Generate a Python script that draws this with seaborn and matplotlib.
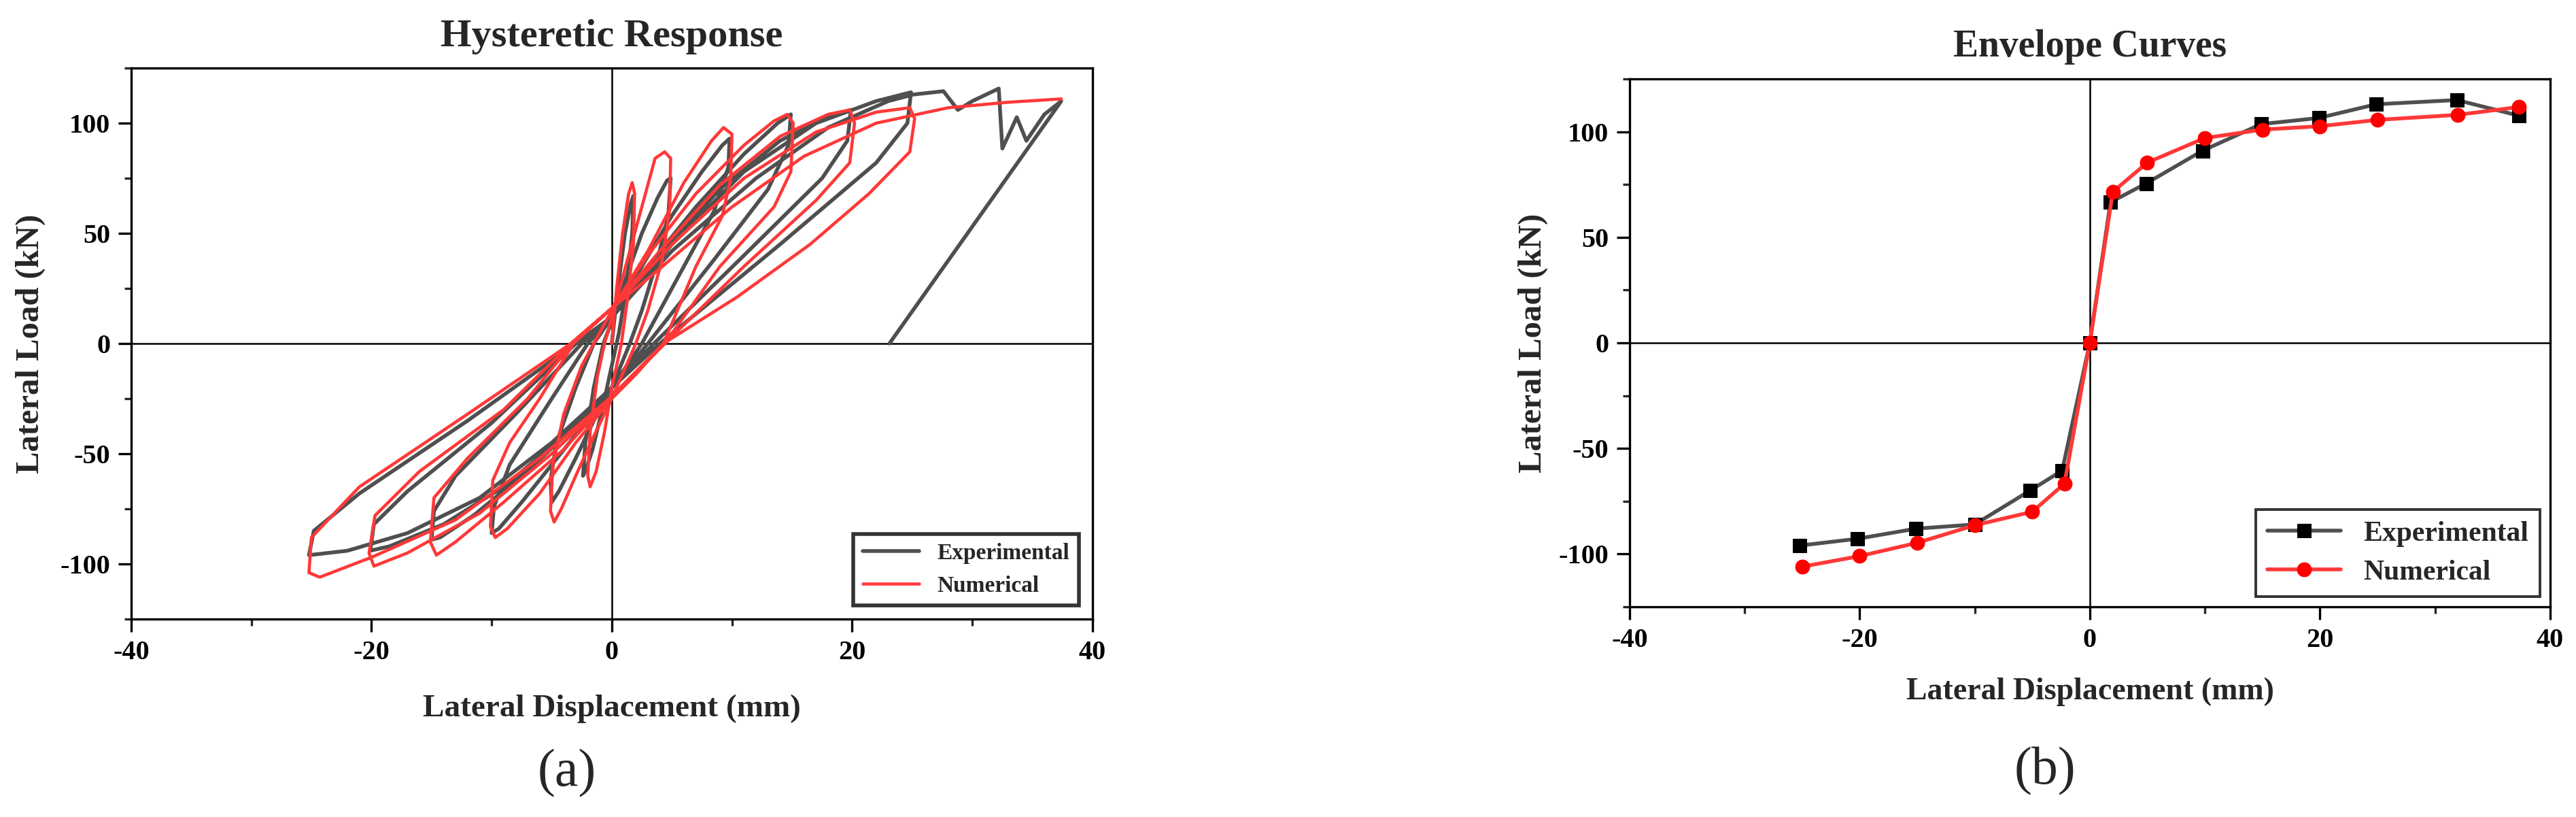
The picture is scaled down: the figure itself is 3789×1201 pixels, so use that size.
import seaborn as sns
import matplotlib.pyplot as plt
import pandas as pd
from matplotlib.ticker import MultipleLocator

sns.set_style('white')
plt.rcParams['font.family'] = ['Liberation Serif', 'DejaVu Serif']
plt.rcParams['axes.unicode_minus'] = False

# ---- data: hysteretic response (mm, kN) ----
exp_x = [0, 0.5, 1.1, 1.6, 1.8, 1.7, 1.2, 0.6, 0, -0.8, -1.6, -2.2, -2.4, -2.2, -1.5, -0.7, 0,
         1.2, 2.5, 3.8, 4.6, 4.9, 4.7, 3.8, 2.5, 1.5, 0, -1.5, -3, -4.4, -5, -5.1, -4.6, -3, -1.5, 0,
         2.5, 5, 7.5, 9.2, 9.8, 9.7, 8.5, 5.5, 2.5, 0, -2.5, -5, -7.5, -9.4, -10, -9.8, -8.5, -5, -2, 0,
         3, 7, 11, 13.8, 14.9, 14.7, 13, 8.5, 3, 0, -3.5, -7.5, -11.5, -14.3, -15, -14.8, -13, -8, -2.5, 0,
         4, 9, 14, 18, 19.9, 19.6, 17.5, 11, 3.5, 0, -4, -9, -14, -18.5, -20.1, -19.8, -17, -10, -3, 0,
         5, 11, 17, 22, 24.9, 24.6, 22, 14, 4, 0, -5, -11, -17, -22, -25.2, -24.8, -21, -12, -3, 0,
         5, 12, 18, 23, 25.1, 27.6, 28.8, 30, 32.2, 32.5, 33.7, 34.5, 36, 37.4, 23.1]
exp_y = [0, 25, 50, 64, 67, 50, 25, 5, -10, -30, -48, -58, -60, -45, -20, 0, 10,
         30, 50, 66, 74, 75, 58, 38, 15, 0, -20, -35, -52, -67, -72, -62, -45, -20, 0, 12,
         35, 58, 78, 90, 93, 80, 60, 30, 0, -20, -38, -55, -72, -84, -86, -74, -55, -25, 0, 12,
         35, 62, 86, 100, 104, 90, 70, 38, 0, -20, -40, -60, -78, -88, -89, -76, -60, -32, 0, 12,
         40, 70, 92, 103, 106, 92, 75, 40, 0, -20, -42, -65, -82, -92, -94, -82, -67, -36, 0, 12,
         45, 78, 100, 110, 114, 100, 82, 45, 0, -20, -45, -70, -86, -94, -96, -85, -68, -35, 0, 12,
         42, 75, 98, 110, 113, 114.5, 106, 110, 115.7, 88.5, 102.7, 92, 104, 110, 0]

num_x = [0, 0.4, 0.9, 1.4, 1.7, 1.9, 1.8, 1.3, 0.8, 0, -0.6, -1.3, -1.8, -2.0, -1.8, -1.2, -0.6, 0,
         1.0, 2.0, 3.0, 3.6, 4.4, 4.9, 4.8, 4.2, 3.0, 2.0, 0, -1.5, -3.0, -4.2, -4.8, -5.1, -4.9, -4.0, -2.5, -1.5, 0,
         3, 6, 8.3, 9.3, 10, 9.9, 9.2, 7, 4.3, 2, 0, -3, -6, -8.7, -9.7, -10.1, -9.9, -8.5, -6, -3.2, 0,
         3, 7, 11, 13.5, 14.6, 15.1, 14.9, 13.5, 9, 4.4, 0, -4, -9, -13, -14.6, -15.1, -14.8, -12, -7, -3.3, 0,
         4, 9, 14, 18, 19.8, 20.2, 19.8, 17, 11, 4.4, 0, -5, -11, -17, -19.8, -20.2, -19.7, -16, -9, -3.4, 0,
         5, 11, 17, 22, 24.8, 25.2, 24.8, 21.4, 16.5, 10.4, 4.3, 0, -6, -13, -20, -24.3, -25.2, -25, -21, -12, -3.4, 0,
         4, 10, 16, 22, 28, 33, 37.4]
num_y = [0, 25, 50, 68, 73, 68, 45, 20, 0, -20, -40, -58, -65, -60, -40, -15, 0, 12,
         32, 52, 72, 84, 87, 84, 60, 38, 15, 0, -25, -42, -60, -75, -81, -76, -55, -32, -10, 0, 15,
         42, 73, 92, 98, 95, 75, 58, 35, 0, -14, -25, -45, -68, -84, -88, -83, -62, -45, -25, 0, 16,
         40, 68, 90, 101, 104, 100, 78, 62, 35, 0, -24, -48, -72, -90, -96, -90, -70, -52, -25, 0, 16,
         42, 72, 94, 104, 106, 100, 82, 65, 35, 0, -24, -50, -77, -95, -101, -95, -78, -58, -30, 0, 16,
         45, 75, 96, 105, 107, 102, 87, 68, 45, 21, 0, -24, -52, -80, -97, -106, -104, -88, -65, -32, 0, 16,
         34, 62, 85, 100, 107, 109.5, 111]

# ---- data: envelope curves ----
env_exp_x = [-25.2, -20.2, -15.1, -10, -5.2, -2.4, 0, 1.8, 4.9, 9.8, 14.9, 19.9, 24.9, 31.9, 37.3]
env_exp_y = [-96, -92.8, -88, -86, -70, -60.5, 0, 66.6, 75.5, 91, 103.6, 106.5, 113, 115, 107.6]
env_num_x = [-25, -20, -15, -10, -5, -2.2, 0, 2, 5, 10, 15, 20, 25, 32, 37.3]
env_num_y = [-106, -101, -94.7, -86.4, -80, -66.7, 0, 71.5, 85.4, 97, 101, 102.6, 105.6, 108, 111.7]

GRAY = '#4f4f4f'
RED = '#ff3838'
SERIF = 'Liberation Serif'

fig = plt.figure(figsize=(37.89, 12.01), dpi=100)
ax1 = fig.add_axes([0.0509, 0.2423, 0.3732, 0.6744])
ax2 = fig.add_axes([0.6326, 0.2573, 0.3573, 0.6461])

hyst_exp = pd.DataFrame({'disp': exp_x, 'load': exp_y})
hyst_num = pd.DataFrame({'disp': num_x, 'load': num_y})
sns.lineplot(data=hyst_exp, x='disp', y='load', sort=False, estimator=None,
             color=GRAY, lw=4.0, label='Experimental', ax=ax1)
sns.lineplot(data=hyst_num, x='disp', y='load', sort=False, estimator=None,
             color=RED, lw=3.3, label='Numerical', ax=ax1)

sns.lineplot(x=env_exp_x, y=env_exp_y, sort=False, estimator=None, color=GRAY, lw=4.0,
             marker='s', markersize=15, markerfacecolor='black', markeredgecolor='black',
             label='Experimental', ax=ax2)
sns.lineplot(x=env_num_x, y=env_num_y, sort=False, estimator=None, color=RED, lw=4.0,
             marker='o', markersize=15, markerfacecolor='#ff0000', markeredgecolor='#ff0000',
             label='Numerical', ax=ax2)

for ax in (ax1, ax2):
    ax.set_xlim(-40, 40)
    ax.set_ylim(-125, 125)
    ax.axhline(0, color='black', lw=1.8, zorder=1)
    ax.axvline(0, color='black', lw=1.8, zorder=1)
    ax.xaxis.set_major_locator(MultipleLocator(20))
    ax.xaxis.set_minor_locator(MultipleLocator(10))
    ax.yaxis.set_major_locator(MultipleLocator(50))
    ax.yaxis.set_minor_locator(MultipleLocator(25))
    ax.tick_params(which='major', direction='out', length=14, width=2.4,
                   bottom=True, left=True, top=False, right=False, pad=8,
                   labelsize=29, colors='black')
    ax.tick_params(which='minor', direction='out', length=7, width=2.4,
                   bottom=True, left=True, top=False, right=False)
    for s in ax.spines.values():
        s.set_color('black')
        s.set_linewidth(2.4)
    for lab in ax.get_xticklabels() + ax.get_yticklabels():
        lab.set_family(SERIF)
        lab.set_fontweight('bold')
    ax.set_xlabel('')
    ax.set_ylabel('')

leg1 = ax1.legend(loc='lower right', frameon=True, fancybox=False,
                  handlelength=2.5, borderaxespad=0.6, labelspacing=0.5,
                  prop={'family': SERIF, 'weight': 'bold', 'size': 24})
leg1.get_frame().set_edgecolor('black')
leg1.get_frame().set_linewidth(4.0)

leg2 = ax2.legend(loc='lower right', frameon=True, fancybox=False,
                  handlelength=2.6, borderaxespad=0.35, labelspacing=0.45,
                  prop={'family': SERIF, 'weight': 'bold', 'size': 30})
leg2.get_frame().set_edgecolor('black')
leg2.get_frame().set_linewidth(2.8)

# titles, axis labels and panel captions
fig.text(900 / 3789, 1 - 54 / 1201, 'Hysteretic Response', ha='center', va='center',
         fontsize=42, fontweight='bold')
fig.text(3074 / 3789, 1 - 69 / 1201, 'Envelope Curves', ha='center', va='center',
         fontsize=40, fontweight='bold')
fig.text(900 / 3789, 1 - 1042 / 1201, 'Lateral Displacement (mm)', ha='center', va='center',
         fontsize=34, fontweight='bold')
fig.text(3074 / 3789, 1 - 1017 / 1201, 'Lateral Displacement (mm)', ha='center', va='center',
         fontsize=33, fontweight='bold')
fig.text(45 / 3789, 1 - 505 / 1201, 'Lateral Load (kN)', ha='center', va='center',
         rotation=90, fontsize=35, fontweight='bold')
fig.text(2255 / 3789, 1 - 504 / 1201, 'Lateral Load (kN)', ha='center', va='center',
         rotation=90, fontsize=35, fontweight='bold')
fig.text(834 / 3789, 1 - 1137 / 1201, '(a)', ha='center', va='center', fontsize=56)
fig.text(3008 / 3789, 1 - 1134 / 1201, '(b)', ha='center', va='center', fontsize=56)

fig.savefig('out.png', dpi=100)
